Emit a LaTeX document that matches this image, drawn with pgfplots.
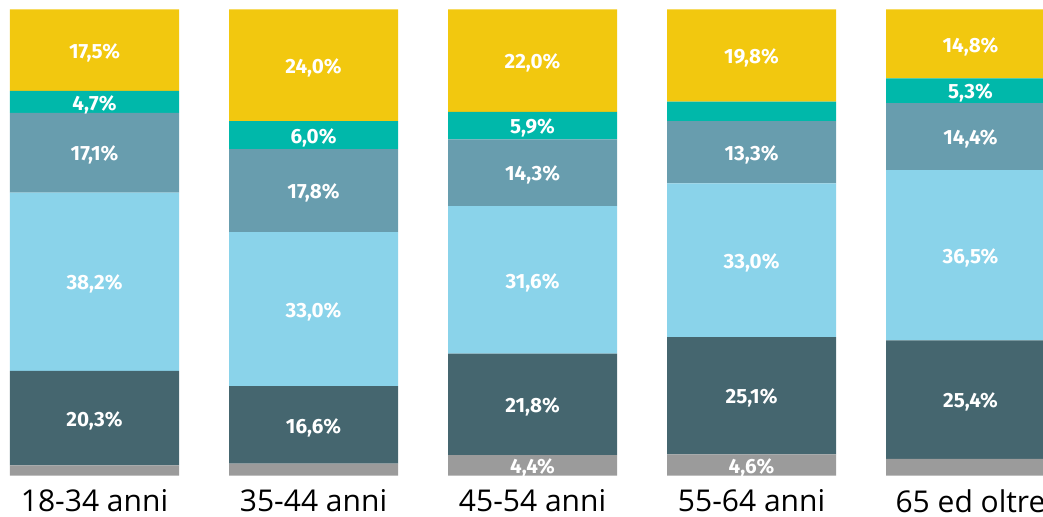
\documentclass[border=0pt]{standalone}
\usepackage{fontspec}
\setmainfont{Open Sans}
\newfontfamily\labfont{Fira Sans}
\usepackage{pgfplots}
\pgfplotsset{compat=1.18}
\definecolor{cgray}{HTML}{9B9B9B}
\definecolor{cdark}{HTML}{45666F}
\definecolor{clight}{HTML}{8AD3EA}
\definecolor{csteel}{HTML}{689DAE}
\definecolor{cteal}{HTML}{00B8AA}
\definecolor{cyel}{HTML}{F2C80F}
\begin{document}
\begin{tikzpicture}
\path[use as bounding box, clip] (0,-20.15pt) rectangle (521.5pt,237.85pt);
\begin{axis}[
  at={(0,0)}, anchor=south west,
  scale only axis, width=521.5pt, height=233.2pt,
  xmin=-0.4315, xmax=4.331, ymin=0, ymax=100,
  ybar stacked, bar width=0.7717,
  axis line style={draw=none},
  major tick length=0pt,
  ytick=\empty,
  xtick={0,1,2,3,4},
  xticklabels={18-34 anni,35-44 anni,45-54 anni,55-64 anni,65 ed oltre},
  xticklabel style={anchor=center, yshift=-12.6pt, font=\fontsize{15}{18}\selectfont, text=black},
  point meta=explicit symbolic,
  nodes near coords,
  every node near coord/.append style={anchor=center, text=white, yshift=-1.3pt,
     font=\labfont\bfseries\fontsize{10.3}{12}\selectfont},
]
\addplot[fill=cgray, draw=none] coordinates {
 (0,2.2) [] (1,2.6) [] (2,4.4) [4,4\%] (3,4.6) [4,6\%] (4,3.6) []};
\addplot[fill=cdark, draw=none] coordinates {
 (0,20.3) [20,3\%] (1,16.6) [16,6\%] (2,21.8) [21,8\%] (3,25.1) [25,1\%] (4,25.4) [25,4\%]};
\addplot[fill=clight, draw=none] coordinates {
 (0,38.2) [38,2\%] (1,33.0) [33,0\%] (2,31.6) [31,6\%] (3,33.0) [33,0\%] (4,36.5) [36,5\%]};
\addplot[fill=csteel, draw=none] coordinates {
 (0,17.1) [17,1\%] (1,17.8) [17,8\%] (2,14.3) [14,3\%] (3,13.3) [13,3\%] (4,14.4) [14,4\%]};
\addplot[fill=cteal, draw=none] coordinates {
 (0,4.7) [4,7\%] (1,6.0) [6,0\%] (2,5.9) [5,9\%] (3,4.2) [] (4,5.3) [5,3\%]};
\addplot[fill=cyel, draw=none] coordinates {
 (0,17.5) [17,5\%] (1,24.0) [24,0\%] (2,22.0) [22,0\%] (3,19.8) [19,8\%] (4,14.8) [14,8\%]};
\end{axis}
\end{tikzpicture}
\end{document}
